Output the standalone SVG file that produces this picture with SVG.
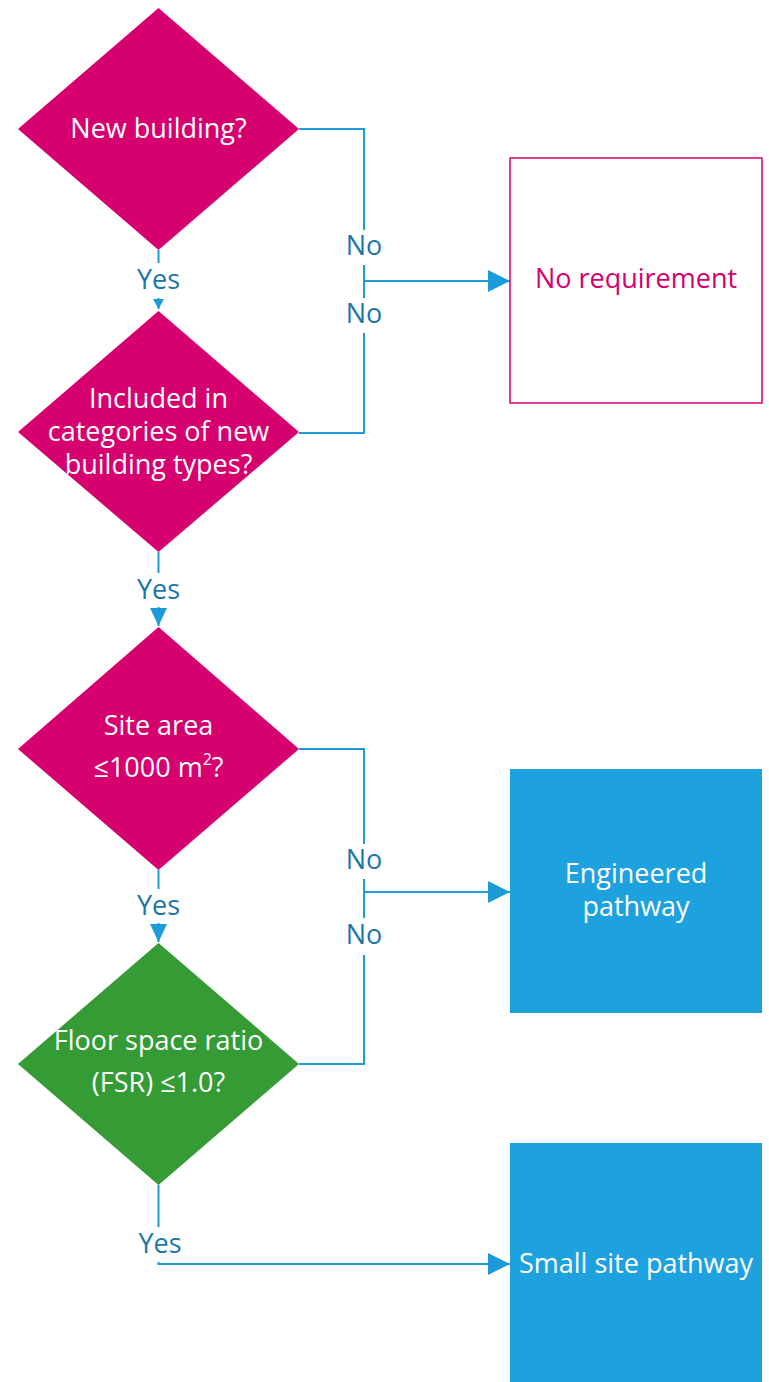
<svg xmlns="http://www.w3.org/2000/svg" width="769" height="1382" viewBox="0 0 769 1382">
<style>
text{font-family:"Open Sans","Noto Sans","Liberation Sans",sans-serif;font-size:27px;text-anchor:middle}
.dm{fill:#d6006f}
.dg{fill:#359b35}
.wt{fill:#ffffff}
.lbl{fill:#1c76a8}
.con{fill:none;stroke:#1b9bd8;stroke-width:2}
.bx{fill:#1ea1df}
</style>
<defs>
<marker id="aBig" markerUnits="userSpaceOnUse" markerWidth="22" markerHeight="22" refX="22" refY="11" orient="auto"><path d="M0,0 L22,11 L0,22 Z" fill="#1b9bd8"/></marker>
<marker id="aSm" markerUnits="userSpaceOnUse" markerWidth="12" markerHeight="12" refX="10" refY="6" orient="auto"><path d="M0,0.5 L10,6 L0,11.5 Z" fill="#1b9bd8"/></marker>
<marker id="aMd" markerUnits="userSpaceOnUse" markerWidth="18" markerHeight="18" refX="18" refY="9" orient="auto"><path d="M0,0.5 L18,9 L0,17.5 Z" fill="#1b9bd8"/></marker>
</defs>
<g id="connectors">
<path class="con" d="M299,129 H364 V230"/>
<path class="con" d="M364,265 V298"/>
<path class="con" d="M364,281 H510" marker-end="url(#aBig)"/>
<path class="con" d="M364,333 V433 H299"/>
<path class="con" d="M158.5,250 V263"/>
<path class="con" d="M158.5,298 V309" stroke="none" marker-end="url(#aSm)"/>
<path class="con" d="M158.5,552 V573"/>
<path class="con" d="M158.5,607 V626" stroke="none" marker-end="url(#aMd)"/>
<path class="con" d="M299,749 H364 V844"/>
<path class="con" d="M364,879 V918"/>
<path class="con" d="M364,892 H510" marker-end="url(#aBig)"/>
<path class="con" d="M364,955 V1064 H299"/>
<path class="con" d="M158.5,870 V889"/>
<path class="con" d="M158.5,923 V942" stroke="none" marker-end="url(#aMd)"/>
<path class="con" d="M158.5,1185 V1227"/>
<path class="con" d="M158.5,1262 V1264 H510" marker-end="url(#aBig)"/>
<text class="lbl" x="364" y="255">No</text>
<text class="lbl" x="364" y="323">No</text>
<text class="lbl" x="158.5" y="289">Yes</text>
<text class="lbl" x="158.5" y="599">Yes</text>
<text class="lbl" x="364" y="869">No</text>
<text class="lbl" x="364" y="944">No</text>
<text class="lbl" x="158.5" y="915">Yes</text>
<text class="lbl" x="160" y="1253">Yes</text>
</g>
<g id="n1">
<polygon class="dm" points="158.5,8 299,129 158.5,250 18,129"/>
<text class="wt" x="158.5" y="138">New building?</text>
</g>
<g id="n2">
<polygon class="dm" points="158.5,311 299,432 158.5,552 18,432"/>
<text class="wt" x="158.5" y="408">Included in</text>
<text class="wt" x="158.5" y="441">categories of new</text>
<text class="wt" x="158.5" y="474">building types?</text>
</g>
<g id="n3">
<polygon class="dm" points="158.5,627 299,749 158.5,870 18,749"/>
<text class="wt" x="158.5" y="735">Site area</text>
<text class="wt" x="158.5" y="777">≤1000 m<tspan font-size="16" dy="-12">2</tspan><tspan dy="12">?</tspan></text>
</g>
<g id="n4">
<polygon class="dg" points="158.5,943 299,1064 158.5,1185 18,1064"/>
<text class="wt" x="158.5" y="1050">Floor space ratio</text>
<text class="wt" x="158.5" y="1092">(FSR) ≤1.0?</text>
</g>
<g id="n5">
<rect x="510" y="158" width="252" height="245" fill="#ffffff" stroke="#d6006f" stroke-width="1.5"/>
<text x="636" y="288" fill="#d6006f">No requirement</text>
</g>
<g id="n6">
<rect class="bx" x="510" y="769" width="252" height="244"/>
<text class="wt" x="636" y="883">Engineered</text>
<text class="wt" x="636" y="916">pathway</text>
</g>
<g id="n7">
<rect class="bx" x="510" y="1143" width="252" height="239"/>
<text class="wt" x="636" y="1273">Small site pathway</text>
</g>
</svg>
